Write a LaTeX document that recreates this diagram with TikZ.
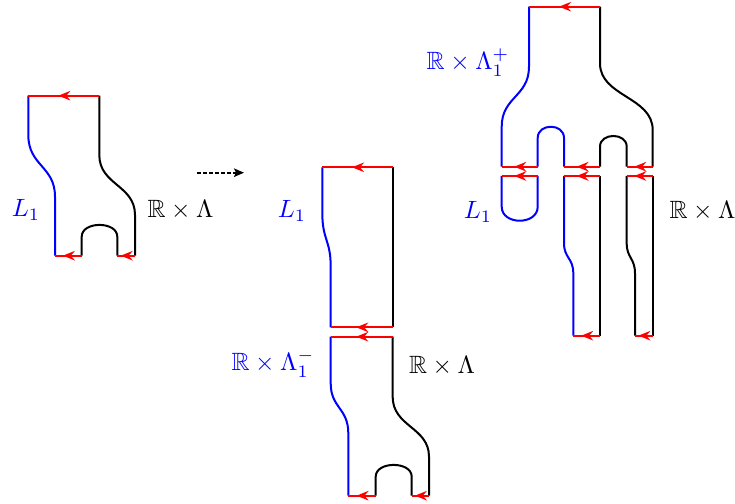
\documentclass[tikz,border=0pt]{standalone}
\usepackage{amssymb}
\usetikzlibrary{arrows.meta,decorations.markings}
\begin{document}
\begin{tikzpicture}[x=0.4pt,y=-0.4pt,
  ln/.style={line width=0.8pt, line join=round},
  blu/.style={ln, blue},
  blk/.style={ln, black},
  rarr/.style={ln, red, postaction={decorate},
    decoration={markings, mark=at position 0.5 with {\arrow[xshift=2.2pt]{Stealth[length=4.8pt,width=3.8pt,inset=1.6pt]}}}},
  lbl/.style={anchor=base, inner sep=0pt},
  dasharr/.style={line width=0.7pt, dash pattern=on 1.5pt off 0.9pt, -{Stealth[length=4pt,width=3.4pt,inset=0.8pt]}}
]
\useasboundingbox (0,0) rectangle (735,504);

% ---------- left figure ----------
\draw[blu] (28.3,95.7) -- (28.3,135) .. controls (28.3,166) and (55,166) .. (55,196.7) -- (55,255.7);
\draw[blk] (99.3,95.7) -- (99.3,155) .. controls (99.3,185) and (135,185) .. (135,215) -- (135,255.7);
\draw[blk] (81.7,255.7) -- (81.7,236.7) .. controls (81.7,221) and (117.3,221) .. (117.3,236.7) -- (117.3,255.7);
\draw[rarr] (99.3,95.7) -- (28.3,95.7);
\draw[rarr] (81.7,255.7) -- (55,255.7);
\draw[rarr] (135,255.7) -- (117.3,255.7);
\node[lbl,blue] (la) at (26,216.7) {$L_1$};
\node[lbl] (lb) at (180.5,218) {$\mathbb{R}\times\Lambda$};

% dashed arrow
\coordinate (d1) at (197,172.7);
\coordinate (d2) at (244,172.7);
\draw[dasharr] (d1) -- (d2);

% ---------- middle upper ----------
\draw[blu] (322.3,167.3) -- (322.3,213) .. controls (322.3,240) and (330.7,240) .. (330.7,266.7) -- (330.7,327.3);
\draw[blk] (392.7,167.3) -- (392.7,327.3);
\draw[rarr] (392.7,167.3) -- (322.3,167.3);
\draw[rarr] (392.7,327.3) -- (330.7,327.3);
\node[lbl,blue] (mb) at (292,218) {$L_1$};

% ---------- middle lower ----------
\draw[blu] (330.7,336.7) -- (330.7,383.3) .. controls (330.7,408) and (348.3,408) .. (348.3,433.3) -- (348.3,495.7);
\draw[blk] (392.7,336.7) -- (392.7,396.7) .. controls (392.7,427) and (429,427) .. (429,456.7) -- (429,495.7);
\draw[blk] (375.7,495.7) -- (375.7,476.7) .. controls (375.7,461) and (411.7,461) .. (411.7,476.7) -- (411.7,495.7);
\draw[rarr] (392.7,336.7) -- (330.7,336.7);
\draw[rarr] (375.7,495.7) -- (348.3,495.7);
\draw[rarr] (429,495.7) -- (411.7,495.7);
\node[lbl,blue] (mc) at (273,371) {$\mathbb{R}\times\Lambda_1^-$};
\node[lbl] (md) at (442,374) {$\mathbb{R}\times\Lambda$};

% ---------- right figure ----------
\draw[blu] (529,6.7) -- (529,66.7) .. controls (529,96.7) and (501.7,96.7) .. (501.7,126.7) -- (501.7,166.7);
\draw[blk] (600,6.7) -- (600,63.3) .. controls (600,96.7) and (652.7,96.7) .. (652.7,130) -- (652.7,166.7);
\draw[blu] (537.7,166.7) -- (537.7,138) .. controls (537.7,123) and (564,123) .. (564,138) -- (564,166.7);
\draw[blk] (600,166.7) -- (600,146.7) .. controls (600,132.4) and (626.7,132.4) .. (626.7,146.7) -- (626.7,166.7);
\draw[rarr] (600,6.7) -- (529,6.7);
\draw[rarr] (537.7,166.7) -- (501.7,166.7);
\draw[rarr] (600,166.7) -- (564,166.7);
\draw[rarr] (652.7,166.7) -- (626.7,166.7);

\draw[blu] (501.7,176) -- (501.7,206.7) .. controls (501.7,225.4) and (537.7,225.4) .. (537.7,206.7) -- (537.7,176);
\draw[blu] (564,176) -- (564,243.3) .. controls (564,258) and (573.3,258) .. (573.3,273.3) -- (573.3,335.7);
\draw[blk] (600,176) -- (600,335.7);
\draw[blk] (626.7,176) -- (626.7,243.3) .. controls (626.7,258) and (635,258) .. (635,273.3) -- (635,335.7);
\draw[blk] (652.7,176) -- (652.7,335.7);
\draw[rarr] (537.7,176) -- (501.7,176);
\draw[rarr] (600,176) -- (564,176);
\draw[rarr] (652.7,176) -- (626.7,176);
\draw[rarr] (600,335.7) -- (573.3,335.7);
\draw[rarr] (652.7,335.7) -- (635,335.7);

\node[lbl,blue] (ra) at (468,70) {$\mathbb{R}\times\Lambda_1^+$};
\node[lbl,blue] (rb) at (478,219) {$L_1$};
\node[lbl] (rc) at (702.5,219) {$\mathbb{R}\times\Lambda$};
\end{tikzpicture}
\end{document}
